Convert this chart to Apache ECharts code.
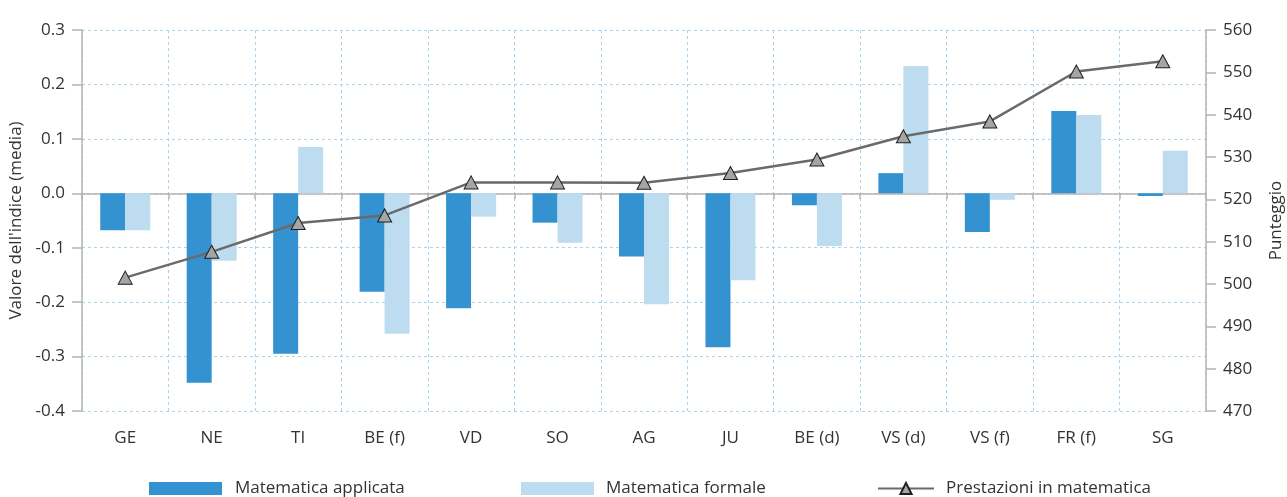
<!DOCTYPE html>
<html>
<head>
<meta charset="utf-8">
<script src="https://cdn.jsdelivr.net/npm/echarts@6/dist/echarts.min.js"></script>
<style>
html,body{margin:0;padding:0;background:#fff;}
#chart{width:1287px;height:497px;}
</style>
</head>
<body>
<div id="chart"></div>
<script>
const categories = ['GE','NE','TI','BE (f)','VD','SO','AG','JU','BE (d)','VS (d)','VS (f)','FR (f)','SG'];
const applicata = [-0.068,-0.348,-0.295,-0.181,-0.211,-0.054,-0.116,-0.283,-0.022,0.037,-0.071,0.151,-0.005];
const formale   = [-0.068,-0.124,0.085,-0.258,-0.043,-0.091,-0.204,-0.160,-0.097,0.234,-0.012,0.144,0.078];
const prestazioni = [501.5,507.6,514.4,516.2,524.0,524.0,523.9,526.2,529.4,534.9,538.4,550.2,552.6];
const seriesNames = ['Matematica applicata','Matematica formale','Prestazioni in matematica'];
const leftAxisName = "Valore dell'indice (media)";
const rightAxisName = 'Punteggio';

const FONT = "'Open Sans', 'Noto Sans', sans-serif";
const FS = 17;
const TXT = '#333';
const GRIDC = '#a9d4ef';
const AXC = '#b4b4b4';

const chart = echarts.init(document.getElementById('chart'), null, {renderer:'canvas'});
const legendBase = {
  orient:'horizontal', top:475, itemWidth:73, itemHeight:13,
  textStyle:{fontFamily:FONT, fontSize:FS, color:TXT, padding:[0,0,0,8]},
  selectedMode:false
};
chart.setOption({
  animation:false,
  grid:{left:82, right:81, top:30, bottom:86, outerBoundsMode:'none', containLabel:false},
  legend:[
    Object.assign({}, legendBase, {left:144, data:[{name:seriesNames[0], icon:'rect'}]}),
    Object.assign({}, legendBase, {left:516, textStyle:Object.assign({}, legendBase.textStyle, {padding:[0,0,0,7]}),
      data:[{name:seriesNames[1], icon:'rect'}]}),
    Object.assign({}, legendBase, {left:872, itemWidth:56, itemHeight:14,
      textStyle:Object.assign({}, legendBase.textStyle, {padding:[0,0,0,7]}),
      data:[{name:seriesNames[2]}]})
  ],
  xAxis:[
    {
      type:'category', data:categories, position:'bottom',
      axisLine:{show:false, onZero:false},
      axisTick:{show:false},
      axisLabel:{fontFamily:FONT, fontSize:FS, color:TXT, margin:19},
      splitLine:{show:true, lineStyle:{color:GRIDC, type:[3,3], width:1}}
    },
    {
      type:'category', data:categories, position:'bottom',
      axisLine:{show:true, onZero:true, lineStyle:{color:AXC, width:1.5}},
      axisTick:{show:true, length:6, inside:false, lineStyle:{color:AXC, width:1.5}},
      axisLabel:{show:false},
      splitLine:{show:false}
    }
  ],
  yAxis:[
    {
      type:'value', min:-0.4, max:0.3, interval:0.1, position:'left',
      name:leftAxisName, nameLocation:'middle', nameGap:57, nameRotate:90,
      nameTextStyle:{fontFamily:FONT, fontSize:FS, color:TXT},
      axisLine:{show:true, lineStyle:{color:AXC, width:1.5}},
      axisTick:{show:true, length:10, lineStyle:{color:AXC, width:1.5}},
      axisLabel:{fontFamily:FONT, fontSize:FS, color:TXT, margin:17,
        formatter:v=>v.toFixed(1)},
      splitLine:{show:true, lineStyle:{color:GRIDC, type:[3,3], width:1}}
    },
    {
      type:'value', min:470, max:560, interval:10, position:'right',
      name:rightAxisName, nameLocation:'middle', nameGap:62, nameRotate:90,
      nameTextStyle:{fontFamily:FONT, fontSize:FS, color:TXT},
      axisLine:{show:true, lineStyle:{color:AXC, width:1.5}},
      axisTick:{show:true, length:10, lineStyle:{color:AXC, width:1.5}},
      axisLabel:{fontFamily:FONT, fontSize:FS, color:TXT, margin:17},
      splitLine:{show:false}
    }
  ],
  series:[
    {name:seriesNames[0], type:'bar', xAxisIndex:0, yAxisIndex:0, data:applicata,
      barWidth:25, barGap:'0%', itemStyle:{color:'#3592d0'}},
    {name:seriesNames[1], type:'bar', xAxisIndex:0, yAxisIndex:0, data:formale,
      barWidth:25, barGap:'0%', itemStyle:{color:'#bddcf0'}},
    {name:seriesNames[2], type:'line', xAxisIndex:0, yAxisIndex:1, data:prestazioni,
      symbol:'triangle', symbolSize:[14,13], z:5,
      lineStyle:{color:'#6a6a6a', width:2.5},
      itemStyle:{color:'#a5a5a5', borderColor:'#1e1e1e', borderWidth:1}}
  ]
});
</script>
</body>
</html>
